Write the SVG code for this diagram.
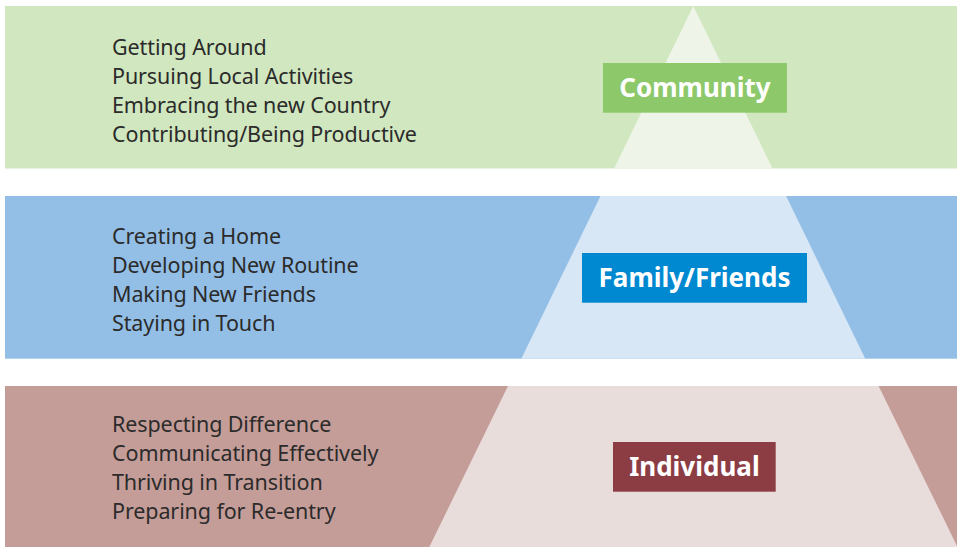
<svg xmlns="http://www.w3.org/2000/svg" width="957" height="547" viewBox="0 0 957 547">
<style>
.item{font-family:"Noto Sans","Liberation Sans",sans-serif;font-size:21.5px;letter-spacing:-0.1px;fill:#2b2b2b}
.lbl{font-family:"Noto Sans","Liberation Sans",sans-serif;font-size:26px;font-weight:bold;fill:#ffffff;text-anchor:middle}
</style>
<rect width="957" height="547" fill="#ffffff"/>
<g id="community">
<rect x="5" y="6" width="952" height="162.5" fill="#d1e7bf"/>
<polygon points="693.3,6 772.5,168.5 614.1,168.5" fill="#eef5e8"/>
<rect x="603" y="63" width="184" height="49.7" fill="#8dc96a"/>
<text class="lbl" x="695" y="96.7">Community</text>
<text class="item" x="112" y="55">Getting Around</text>
<text class="item" x="112" y="84">Pursuing Local Activities</text>
<text class="item" x="112" y="113.2">Embracing the new Country</text>
<text class="item" x="112" y="142.3">Contributing/Being Productive</text>
</g>
<g id="family">
<rect x="5" y="196" width="952" height="162.7" fill="#93bfe6"/>
<polygon points="600.5,196 786.1,196 865.3,358.7 521.3,358.7" fill="#d8e7f6"/>
<rect x="582" y="253" width="225" height="49.7" fill="#0088d0"/>
<text class="lbl" x="694.5" y="287.3">Family/Friends</text>
<text class="item" x="112" y="243.5">Creating a Home</text>
<text class="item" x="112" y="272.6">Developing New Routine</text>
<text class="item" x="112" y="301.7">Making New Friends</text>
<text class="item" x="112" y="330.8">Staying in Touch</text>
</g>
<g id="individual">
<rect x="5" y="386" width="952" height="161" fill="#c59d98"/>
<polygon points="508,386 878.6,386 957.5,547 429.3,547" fill="#e9dddc"/>
<rect x="613" y="442" width="162.7" height="49.7" fill="#8c3c43"/>
<text class="lbl" x="694.4" y="475.7">Individual</text>
<text class="item" x="112" y="431.7">Respecting Difference</text>
<text class="item" x="112" y="460.9">Communicating Effectively</text>
<text class="item" x="112" y="490">Thriving in Transition</text>
<text class="item" x="112" y="519.2">Preparing for Re-entry</text>
</g>
<g id="connectors"></g>
</svg>
